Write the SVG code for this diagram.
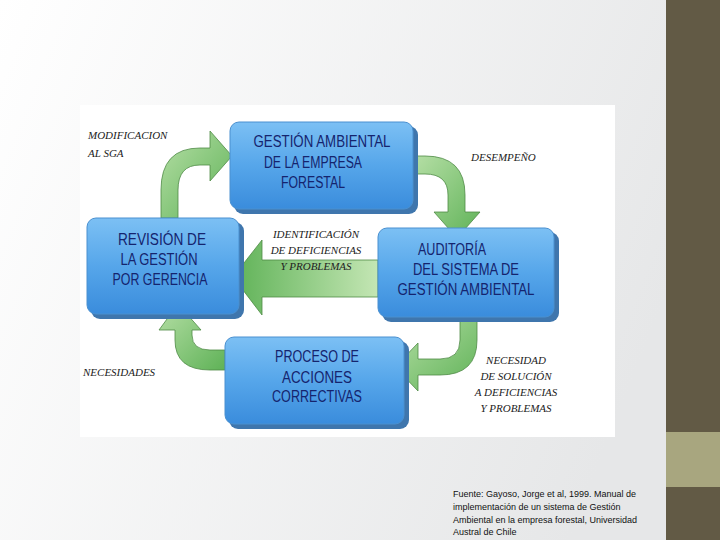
<svg xmlns="http://www.w3.org/2000/svg" width="720" height="540" viewBox="0 0 720 540">
<defs>
<linearGradient id="bg" x1="0" y1="0" x2="1" y2="0.3"><stop offset="0" stop-color="#ffffff"/><stop offset="1" stop-color="#e6e7e8"/></linearGradient>
<linearGradient id="box" x1="0" y1="0" x2="0" y2="1"><stop offset="0" stop-color="#7cc0f4"/><stop offset="0.5" stop-color="#56a6ea"/><stop offset="1" stop-color="#3a8cdc"/></linearGradient>
<linearGradient id="gr" x1="0" y1="0" x2="1" y2="1"><stop offset="0" stop-color="#b6dfa6"/><stop offset="1" stop-color="#5fb257"/></linearGradient>
<linearGradient id="grh" x1="1" y1="0" x2="0" y2="0"><stop offset="0" stop-color="#c4e6b4"/><stop offset="1" stop-color="#5fb257"/></linearGradient>
<style>
.b{fill:url(#box);stroke:#4a90d0;stroke-width:1}
.s{fill:#3f76ad}
.t{font-family:"Liberation Sans",sans-serif;font-size:16px;fill:#15246e;text-anchor:middle}
.l{font-family:"Liberation Serif",serif;font-style:italic;font-size:11px;fill:#222}
.a{stroke:#4e8a45;stroke-width:0.8}
</style>
</defs>
<rect width="720" height="540" fill="url(#bg)"/>
<rect x="666" y="0" width="54" height="540" fill="#625a45"/>
<rect x="666" y="432" width="54" height="55" fill="#a8a67f"/>
<rect x="80" y="105" width="535" height="332" fill="#fff"/>
<g id="connectors">
<path class="a" fill="url(#gr)" d="M161,218 L161,190 Q161,148 200,148 L210,148 L210,131 L232,156 L210,181 L210,165 L200,165 Q178,165 178,190 L178,218 Z"/>
<path class="a" fill="url(#gr)" d="M413,156 L425,156 Q465,156 465,195 L465,212 L480,212 L457,238 L434,212 L448,212 L448,195 Q448,174 425,174 L413,174 Z"/>
<path class="a" fill="url(#grh)" d="M378,260 L262,260 L262,240 L233,277 L262,315 L262,297 L378,297 Z"/>
<path class="a" fill="url(#gr)" d="M477,318 L477,340 Q477,375 440,375 L418,375 L418,391 L395,367 L418,343 L418,359 L440,359 Q460,359 460,340 L460,318 Z"/>
<path class="a" fill="url(#gr)" d="M225,350 L210,350 Q192,350 192,335 L192,330 L201,330 L178,304 L159,330 L175,330 L175,340 Q175,370 210,370 L225,370 Z"/>
</g>
<g id="top"><rect class="s" x="234" y="126" width="184" height="88" rx="9"/><rect class="b" x="230" y="122" width="183" height="87" rx="9"/>
<text class="t" x="322" y="147" textLength="137" lengthAdjust="spacingAndGlyphs">GESTIÓN AMBIENTAL</text><text class="t" x="313" y="168" textLength="98" lengthAdjust="spacingAndGlyphs">DE LA EMPRESA</text><text class="t" x="313" y="188" textLength="64" lengthAdjust="spacingAndGlyphs">FORESTAL</text></g>
<g id="left"><rect class="s" x="91" y="222" width="153" height="97" rx="9"/><rect class="b" x="87" y="218" width="152" height="96" rx="9"/>
<text class="t" x="162" y="245" textLength="88" lengthAdjust="spacingAndGlyphs">REVISIÓN DE</text><text class="t" x="159" y="265" textLength="77" lengthAdjust="spacingAndGlyphs">LA GESTIÓN</text><text class="t" x="160" y="285" textLength="95" lengthAdjust="spacingAndGlyphs">POR GERENCIA</text></g>
<g id="right"><rect class="s" x="382" y="232" width="177" height="90" rx="9"/><rect class="b" x="378" y="228" width="176" height="89" rx="9"/>
<text class="t" x="452" y="255" textLength="68" lengthAdjust="spacingAndGlyphs">AUDITORÍA</text><text class="t" x="466" y="275" textLength="106" lengthAdjust="spacingAndGlyphs">DEL SISTEMA DE</text><text class="t" x="466" y="295" textLength="137" lengthAdjust="spacingAndGlyphs">GESTIÓN AMBIENTAL</text></g>
<g id="bottom"><rect class="s" x="229" y="341" width="180" height="88" rx="9"/><rect class="b" x="225" y="337" width="179" height="87" rx="9"/>
<text class="t" x="317" y="362" textLength="84" lengthAdjust="spacingAndGlyphs">PROCESO DE</text><text class="t" x="317" y="383" textLength="70" lengthAdjust="spacingAndGlyphs">ACCIONES</text><text class="t" x="317" y="402" textLength="90" lengthAdjust="spacingAndGlyphs">CORRECTIVAS</text></g>
<g id="labels">
<text class="l" x="88" y="139">MODIFICACION</text><text class="l" x="88" y="157">AL SGA</text>
<text class="l" x="471" y="161">DESEMPEÑO</text>
<text class="l" x="316" y="238" text-anchor="middle">IDENTIFICACIÓN</text><text class="l" x="316" y="254" text-anchor="middle">DE DEFICIENCIAS</text><text class="l" x="316" y="270" text-anchor="middle">Y PROBLEMAS</text>
<text class="l" x="83" y="376">NECESIDADES</text>
<text class="l" x="516" y="364" text-anchor="middle">NECESIDAD</text><text class="l" x="516" y="380" text-anchor="middle">DE SOLUCIÓN</text><text class="l" x="516" y="396" text-anchor="middle">A DEFICIENCIAS</text><text class="l" x="516" y="412" text-anchor="middle">Y PROBLEMAS</text>
</g>
<g font-family="'Liberation Sans',sans-serif" font-size="9" fill="#111">
<text x="453" y="497">Fuente: Gayoso, Jorge et al, 1999.  Manual de</text>
<text x="453" y="510">implementación de un sistema de Gestión</text>
<text x="453" y="523">Ambiental en la empresa forestal, Universidad</text>
<text x="453" y="535">Austral de Chile</text>
</g>
</svg>
